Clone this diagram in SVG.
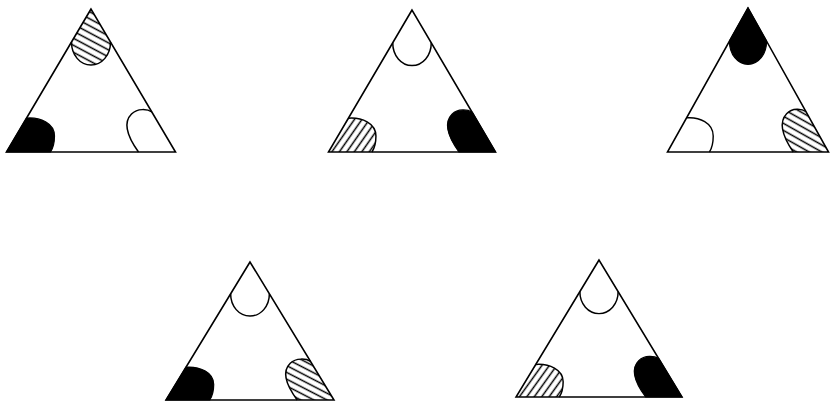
<svg xmlns="http://www.w3.org/2000/svg" xmlns:xlink="http://www.w3.org/1999/xlink" width="830" height="401" viewBox="0 0 830 401">
<defs>
<pattern id="hatchA" patternUnits="userSpaceOnUse" width="10" height="6.2" patternTransform="rotate(28)">
<line x1="0" y1="3.1" x2="10" y2="3.1" stroke="#000" stroke-width="1.5"/>
</pattern>
<pattern id="hatchB" patternUnits="userSpaceOnUse" width="10" height="6.2" patternTransform="rotate(-55)">
<line x1="0" y1="3.1" x2="10" y2="3.1" stroke="#000" stroke-width="1.5"/>
</pattern>
<path id="tri" d="M0,0 L-84.5,143 L84.5,143 Z"/>
<path id="topBlob" d="M0,0 L-19.5,33 C-19.5,46 -11,56 0,56 C11,56 19.5,46 19.5,33 Z"/>
<path id="topArc" d="M-19.5,33 C-19.5,46 -11,56 0,56 C11,56 19.5,46 19.5,33"/>
<path id="blBlob" d="M-84.5,143 L-64.4,109 C-51,108 -36.5,114 -36.5,127 C-36.5,135 -38.5,140 -40.5,143 Z"/>
<path id="blArc" d="M-64.4,109 C-51,108 -36.5,114 -36.5,127 C-36.5,135 -38.5,140 -40.5,143"/>
<path id="brBlob" d="M84.5,143 L60.9,103 C56.5,100 46.5,99 40.5,105 C32.5,113 34.5,125 47.5,143 Z"/>
<path id="brArc" d="M60.9,103 C56.5,100 46.5,99 40.5,105 C32.5,113 34.5,125 47.5,143"/>
</defs>
<style>
.o{fill:none;stroke:#000;stroke-width:1.5;vector-effect:non-scaling-stroke;stroke-linejoin:round}
.t{fill:#fff;stroke:#000;stroke-width:1.6;vector-effect:non-scaling-stroke;stroke-linejoin:miter}
.k{fill:#000;stroke:#000;stroke-width:1.2;vector-effect:non-scaling-stroke}
.ha{fill:url(#hatchA);stroke:none}
.hb{fill:url(#hatchB);stroke:none}
</style>
<rect width="830" height="401" fill="#fff"/>
<g id="triangle1" transform="translate(91,9) scale(1,1)">
<use xlink:href="#tri" class="t"/>
<use xlink:href="#topBlob" class="ha"/>
<use xlink:href="#topArc" class="o"/>
<use xlink:href="#blBlob" class="k"/>
<use xlink:href="#brArc" class="o"/>
</g>
<g id="triangle2" transform="translate(412,10) scale(0.988,0.993)">
<use xlink:href="#tri" class="t"/>
<use xlink:href="#topArc" class="o"/>
<use xlink:href="#blBlob" class="hb"/>
<use xlink:href="#blArc" class="o"/>
<use xlink:href="#brBlob" class="k"/>
</g>
<g id="triangle3" transform="translate(748,8) scale(0.953,1.007)">
<use xlink:href="#tri" class="t"/>
<use xlink:href="#topBlob" class="k"/>
<use xlink:href="#blArc" class="o"/>
<use xlink:href="#brBlob" class="ha"/>
<use xlink:href="#brArc" class="o"/>
</g>
<g id="triangle4" transform="translate(250,262) scale(0.994,0.965)">
<use xlink:href="#tri" class="t"/>
<use xlink:href="#topArc" class="o"/>
<use xlink:href="#blBlob" class="k"/>
<use xlink:href="#brBlob" class="ha"/>
<use xlink:href="#brArc" class="o"/>
</g>
<g id="triangle5" transform="translate(599,260) scale(0.982,0.958)">
<use xlink:href="#tri" class="t"/>
<use xlink:href="#topArc" class="o"/>
<use xlink:href="#blBlob" class="hb"/>
<use xlink:href="#blArc" class="o"/>
<use xlink:href="#brBlob" class="k"/>
</g>
</svg>
